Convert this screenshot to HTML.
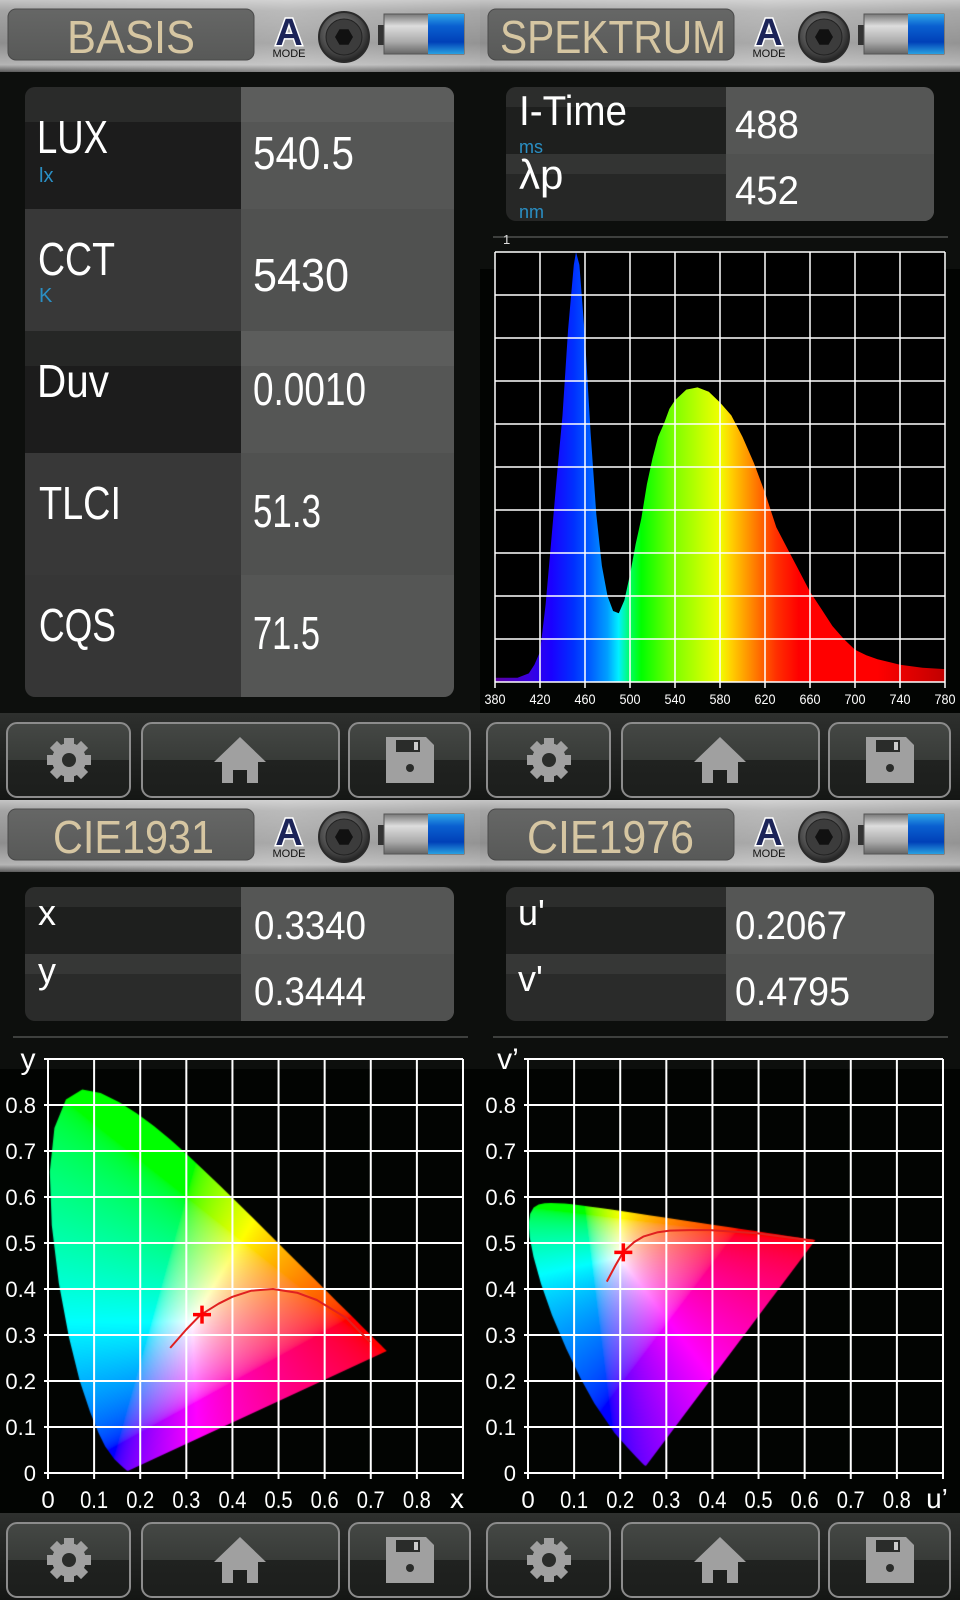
<!DOCTYPE html>
<html><head><meta charset="utf-8">
<style>
html,body{margin:0;padding:0;background:#000;}
body{width:960px;height:1600px;overflow:hidden;position:relative;font-family:"Liberation Sans","DejaVu Sans",sans-serif;}
svg{position:absolute;left:0;top:0;}
canvas{position:absolute;}
text{font-family:"Liberation Sans","DejaVu Sans",sans-serif;}
</style></head>
<body>
<svg id="base" width="960" height="1600" viewBox="0 0 960 1600">
<defs>
  <linearGradient id="hdrG" x1="0" y1="0" x2="0" y2="1">
    <stop offset="0" stop-color="#c4c4c4"/><stop offset="0.15" stop-color="#a4a4a4"/>
    <stop offset="0.6" stop-color="#8e8e8e"/><stop offset="0.9" stop-color="#b4b4b4"/><stop offset="1" stop-color="#5a5a5a"/>
  </linearGradient>
  <linearGradient id="hdrH" x1="0" y1="0" x2="1" y2="0">
    <stop offset="0" stop-color="#fff" stop-opacity="0"/><stop offset="0.6" stop-color="#fff" stop-opacity="0.25"/><stop offset="1" stop-color="#fff" stop-opacity="0.05"/>
  </linearGradient>
  <linearGradient id="titleG" x1="0" y1="0" x2="0" y2="1">
    <stop offset="0" stop-color="#666766"/><stop offset="1" stop-color="#585958"/>
  </linearGradient>
  <radialGradient id="camG" cx="0.45" cy="0.4" r="0.6">
    <stop offset="0" stop-color="#8a8a8a"/><stop offset="0.7" stop-color="#4a4a4a"/><stop offset="1" stop-color="#222"/>
  </radialGradient>
  <linearGradient id="batG" x1="0" y1="0" x2="0" y2="1">
    <stop offset="0" stop-color="#777"/><stop offset="0.3" stop-color="#ddd"/><stop offset="0.7" stop-color="#aaa"/><stop offset="1" stop-color="#666"/>
  </linearGradient>
  <linearGradient id="batB" x1="0" y1="0" x2="0" y2="1">
    <stop offset="0" stop-color="#30a8e8"/><stop offset="0.3" stop-color="#0a60d0"/><stop offset="0.7" stop-color="#0040b8"/><stop offset="1" stop-color="#2aa0e0"/>
  </linearGradient>
  <linearGradient id="barG" x1="0" y1="0" x2="0" y2="1">
    <stop offset="0" stop-color="#2e302e"/><stop offset="1" stop-color="#141614"/>
  </linearGradient>
  <linearGradient id="btnG" x1="0" y1="0" x2="0" y2="1">
    <stop offset="0" stop-color="#454845"/><stop offset="0.5" stop-color="#383b38"/><stop offset="0.5" stop-color="#202220"/><stop offset="1" stop-color="#1c1e1c"/>
  </linearGradient>
  <linearGradient id="specG" gradientUnits="userSpaceOnUse" x1="495" y1="0" x2="945" y2="0">
    <stop offset="0" stop-color="#5a00a0"/><stop offset="0.075" stop-color="#3a00e0"/>
    <stop offset="0.125" stop-color="#1a00ff"/><stop offset="0.175" stop-color="#0030ff"/>
    <stop offset="0.2125" stop-color="#0060ff"/><stop offset="0.25" stop-color="#00a0ff"/>
    <stop offset="0.275" stop-color="#00f0ff"/><stop offset="0.30" stop-color="#00ff60"/>
    <stop offset="0.325" stop-color="#00ff00"/><stop offset="0.40" stop-color="#80ff00"/>
    <stop offset="0.4625" stop-color="#c8ff00"/><stop offset="0.50" stop-color="#f0ff00"/>
    <stop offset="0.525" stop-color="#ffd000"/><stop offset="0.575" stop-color="#ff8000"/>
    <stop offset="0.625" stop-color="#ff3000"/><stop offset="0.675" stop-color="#ff0000"/>
    <stop offset="0.85" stop-color="#ff0000"/><stop offset="1" stop-color="#c00000"/>
  </linearGradient>
  <clipPath id="tblClip1"><rect x="25" y="87" width="429" height="610" rx="10"/></clipPath>
  <clipPath id="tblClip2"><rect x="506" y="87" width="428" height="134" rx="10"/></clipPath>
  <clipPath id="tblClip3"><rect x="25" y="887" width="429" height="134" rx="10"/></clipPath>
  <clipPath id="tblClip4"><rect x="506" y="887" width="428" height="134" rx="10"/></clipPath>
  <g id="camIcon">
    <circle cx="0" cy="0" r="25" fill="url(#camG)" stroke="#2a2a2a" stroke-width="2"/>
    <circle cx="0" cy="0" r="18" fill="#3c3c3c" stroke="#222" stroke-width="1"/>
    <polygon points="9,0 4.5,7.8 -4.5,7.8 -9,0 -4.5,-7.8 4.5,-7.8" fill="#111"/>
  </g>
  <g id="batIcon">
    <rect x="-6" y="11" width="8" height="20" fill="#333"/>
    <rect x="0" y="0" width="80" height="40" fill="url(#batG)" stroke="#555" stroke-width="1"/>
    <rect x="44" y="0" width="36" height="40" fill="url(#batB)"/>
  </g>
  <g id="gearIcon">
    <g fill="#a0a0a0">
      <rect x="-5" y="-22" width="10" height="44"/>
      <rect x="-5" y="-22" width="10" height="44" transform="rotate(45)"/>
      <rect x="-5" y="-22" width="10" height="44" transform="rotate(90)"/>
      <rect x="-5" y="-22" width="10" height="44" transform="rotate(135)"/>
      <circle r="17"/>
    </g>
    <circle r="7" fill="#2a2c2a"/>
  </g>
  <g id="homeIcon">
    <polygon points="0,-23 26,2 18,2 18,23 7,23 7,10 -7,10 -7,23 -18,23 -18,2 -26,2" fill="#a0a0a0"/>
  </g>
  <g id="floppyIcon">
    <polygon points="-24,-23 16,-23 24,-15 24,23 -24,23" fill="#a0a0a0"/>
    <rect x="-14" y="-20" width="24" height="12" fill="#2a2c2a"/>
    <rect x="4" y="-18" width="4" height="8" fill="#ccc"/>
    <circle cx="0" cy="8" r="4" fill="#2a2c2a"/>
  </g>
</defs>

<!-- quadrant backgrounds -->
<rect x="0" y="0" width="960" height="1600" fill="#020402"/>
<rect x="0" y="72" width="960" height="197" fill="#0d0f0d"/>
<rect x="0" y="72" width="480" height="641" fill="#0d0f0d"/>
<rect x="0" y="872" width="960" height="197" fill="#0d0f0d"/>

<!-- headers -->
<g>
  <rect x="0" y="0" width="480" height="72" fill="url(#hdrG)"/><rect x="0" y="0" width="480" height="72" fill="url(#hdrH)"/>
  <rect x="8" y="9" width="246" height="51" rx="8" fill="url(#titleG)" stroke="#4a4a4a"/>
  <text x="67" y="53" font-size="46" fill="#d6c6a2" textLength="128" lengthAdjust="spacingAndGlyphs">BASIS</text>
  <text x="289" y="45" font-size="38" font-weight="bold" fill="#1c2458" stroke="#fff" stroke-width="3" paint-order="stroke" text-anchor="middle">A</text>
  <text x="289" y="57" font-size="11" fill="#111" text-anchor="middle">MODE</text>
  <use href="#camIcon" x="344" y="37"/>
  <use href="#batIcon" x="384" y="14"/>
</g>
<g transform="translate(480,0)">
  <rect x="0" y="0" width="480" height="72" fill="url(#hdrG)"/><rect x="0" y="0" width="480" height="72" fill="url(#hdrH)"/>
  <rect x="8" y="9" width="246" height="51" rx="8" fill="url(#titleG)" stroke="#4a4a4a"/>
  <text x="20" y="53" font-size="46" fill="#d6c6a2" textLength="226" lengthAdjust="spacingAndGlyphs">SPEKTRUM</text>
  <text x="289" y="45" font-size="38" font-weight="bold" fill="#1c2458" stroke="#fff" stroke-width="3" paint-order="stroke" text-anchor="middle">A</text>
  <text x="289" y="57" font-size="11" fill="#111" text-anchor="middle">MODE</text>
  <use href="#camIcon" x="344" y="37"/>
  <use href="#batIcon" x="384" y="14"/>
</g>
<g transform="translate(0,800)">
  <rect x="0" y="0" width="480" height="72" fill="url(#hdrG)"/><rect x="0" y="0" width="480" height="72" fill="url(#hdrH)"/>
  <rect x="8" y="9" width="246" height="51" rx="8" fill="url(#titleG)" stroke="#4a4a4a"/>
  <text x="53" y="53" font-size="46" fill="#d6c6a2" textLength="161" lengthAdjust="spacingAndGlyphs">CIE1931</text>
  <text x="289" y="45" font-size="38" font-weight="bold" fill="#1c2458" stroke="#fff" stroke-width="3" paint-order="stroke" text-anchor="middle">A</text>
  <text x="289" y="57" font-size="11" fill="#111" text-anchor="middle">MODE</text>
  <use href="#camIcon" x="344" y="37"/>
  <use href="#batIcon" x="384" y="14"/>
</g>
<g transform="translate(480,800)">
  <rect x="0" y="0" width="480" height="72" fill="url(#hdrG)"/><rect x="0" y="0" width="480" height="72" fill="url(#hdrH)"/>
  <rect x="8" y="9" width="246" height="51" rx="8" fill="url(#titleG)" stroke="#4a4a4a"/>
  <text x="47" y="53" font-size="46" fill="#d6c6a2" textLength="167" lengthAdjust="spacingAndGlyphs">CIE1976</text>
  <text x="289" y="45" font-size="38" font-weight="bold" fill="#1c2458" stroke="#fff" stroke-width="3" paint-order="stroke" text-anchor="middle">A</text>
  <text x="289" y="57" font-size="11" fill="#111" text-anchor="middle">MODE</text>
  <use href="#camIcon" x="344" y="37"/>
  <use href="#batIcon" x="384" y="14"/>
</g>

<!-- BASIS table -->
<g clip-path="url(#tblClip1)">
  <rect x="25" y="87" width="221" height="122" fill="#1c1c1c"/><rect x="25" y="87" width="221" height="35" fill="#2a2b2a"/>
  <rect x="25" y="209" width="221" height="122" fill="#383838"/>
  <rect x="25" y="331" width="221" height="122" fill="#1c1c1c"/><rect x="25" y="331" width="221" height="35" fill="#262726"/>
  <rect x="25" y="453" width="221" height="122" fill="#383838"/>
  <rect x="25" y="575" width="221" height="122" fill="#363636"/>
  <rect x="241" y="87" width="213" height="610" fill="#555655"/>
  <rect x="241" y="209" width="213" height="122" fill="#505150"/>
  <rect x="241" y="453" width="213" height="122" fill="#505150"/>
  <rect x="241" y="87" width="213" height="35" fill="#5c5d5c"/>
  <rect x="241" y="331" width="213" height="35" fill="#5c5d5c"/>
</g>
<g fill="#fff" font-size="46">
  <text x="37" y="153" textLength="71" lengthAdjust="spacingAndGlyphs">LUX</text>
  <text x="39" y="182" font-size="20" fill="#2a8fc4">lx</text>
  <text x="253" y="169" textLength="101" lengthAdjust="spacingAndGlyphs">540.5</text>
  <text x="38" y="275" textLength="77" lengthAdjust="spacingAndGlyphs">CCT</text>
  <text x="39" y="302" font-size="20" fill="#2a8fc4">K</text>
  <text x="253" y="291" textLength="96" lengthAdjust="spacingAndGlyphs">5430</text>
  <text x="37" y="397" textLength="72" lengthAdjust="spacingAndGlyphs">Duv</text>
  <text x="253" y="405" textLength="113" lengthAdjust="spacingAndGlyphs">0.0010</text>
  <text x="39" y="519" textLength="82" lengthAdjust="spacingAndGlyphs">TLCI</text>
  <text x="253" y="527" textLength="68" lengthAdjust="spacingAndGlyphs">51.3</text>
  <text x="39" y="641" textLength="77" lengthAdjust="spacingAndGlyphs">CQS</text>
  <text x="253" y="649" textLength="67" lengthAdjust="spacingAndGlyphs">71.5</text>
</g>

<!-- SPEKTRUM table -->
<g clip-path="url(#tblClip2)">
  <rect x="506" y="87" width="221" height="67" fill="#1e1f1e"/><rect x="506" y="87" width="221" height="20" fill="#2c2d2c"/>
  <rect x="506" y="154" width="221" height="67" fill="#262726"/><rect x="506" y="154" width="221" height="20" fill="#333433"/>
  <rect x="726" y="87" width="208" height="134" fill="#555655"/>
  <rect x="726" y="154" width="208" height="67" fill="#505150"/>
</g>
<g fill="#fff">
  <text x="519" y="125" font-size="42" textLength="108" lengthAdjust="spacingAndGlyphs">I-Time</text>
  <text x="519" y="153" font-size="18" fill="#2a8fc4">ms</text>
  <text x="735" y="138" font-size="40" textLength="64" lengthAdjust="spacingAndGlyphs">488</text>
  <text x="519" y="189" font-size="42">λp</text>
  <text x="519" y="218" font-size="18" fill="#2a8fc4">nm</text>
  <text x="735" y="204" font-size="40" textLength="64" lengthAdjust="spacingAndGlyphs">452</text>
</g>
<line x1="493" y1="237" x2="948" y2="237" stroke="#3e403e" stroke-width="2"/>
<text x="503" y="244" font-size="13" fill="#ddd">1</text>
<rect x="495" y="252" width="450" height="430" fill="#000"/>
<g id="spectrum"></g>

<!-- CIE tables -->
<g clip-path="url(#tblClip3)">
  <rect x="25" y="887" width="221" height="67" fill="#1e1f1e"/><rect x="25" y="887" width="221" height="20" fill="#2c2d2c"/>
  <rect x="25" y="954" width="221" height="67" fill="#2a2b2a"/><rect x="25" y="954" width="221" height="20" fill="#363736"/>
  <rect x="241" y="887" width="213" height="134" fill="#555655"/>
  <rect x="241" y="954" width="213" height="67" fill="#505150"/>
</g>
<g fill="#fff">
  <text x="38" y="925" font-size="36">x</text>
  <text x="254" y="939" font-size="40" textLength="112" lengthAdjust="spacingAndGlyphs">0.3340</text>
  <text x="38" y="983" font-size="36">y</text>
  <text x="254" y="1005" font-size="40" textLength="112" lengthAdjust="spacingAndGlyphs">0.3444</text>
</g>
<g clip-path="url(#tblClip4)">
  <rect x="506" y="887" width="221" height="67" fill="#1e1f1e"/><rect x="506" y="887" width="221" height="20" fill="#2c2d2c"/>
  <rect x="506" y="954" width="221" height="67" fill="#2a2b2a"/><rect x="506" y="954" width="221" height="20" fill="#363736"/>
  <rect x="726" y="887" width="208" height="134" fill="#555655"/>
  <rect x="726" y="954" width="208" height="67" fill="#505150"/>
</g>
<g fill="#fff">
  <text x="518" y="925" font-size="36">u'</text>
  <text x="735" y="939" font-size="40" textLength="112" lengthAdjust="spacingAndGlyphs">0.2067</text>
  <text x="518" y="991" font-size="36">v'</text>
  <text x="735" y="1005" font-size="40" textLength="115" lengthAdjust="spacingAndGlyphs">0.4795</text>
</g>
<line x1="13" y1="1037" x2="468" y2="1037" stroke="#3e403e" stroke-width="2"/>
<line x1="493" y1="1037" x2="948" y2="1037" stroke="#3e403e" stroke-width="2"/>

<!-- bottom bars -->
<g>
  <rect x="0" y="713" width="480" height="87" fill="url(#barG)"/>
  <rect x="7" y="723" width="123" height="74" rx="10" fill="url(#btnG)" stroke="#8c8c8c" stroke-width="2"/>
  <use href="#gearIcon" x="69" y="760"/>
  <rect x="142" y="723" width="197" height="74" rx="10" fill="url(#btnG)" stroke="#8c8c8c" stroke-width="2"/>
  <use href="#homeIcon" x="240" y="760"/>
  <rect x="349" y="723" width="121" height="74" rx="10" fill="url(#btnG)" stroke="#8c8c8c" stroke-width="2"/>
  <use href="#floppyIcon" x="410" y="760"/>
</g>
<g transform="translate(480,0)">
  <rect x="0" y="713" width="480" height="87" fill="url(#barG)"/>
  <rect x="7" y="723" width="123" height="74" rx="10" fill="url(#btnG)" stroke="#8c8c8c" stroke-width="2"/>
  <use href="#gearIcon" x="69" y="760"/>
  <rect x="142" y="723" width="197" height="74" rx="10" fill="url(#btnG)" stroke="#8c8c8c" stroke-width="2"/>
  <use href="#homeIcon" x="240" y="760"/>
  <rect x="349" y="723" width="121" height="74" rx="10" fill="url(#btnG)" stroke="#8c8c8c" stroke-width="2"/>
  <use href="#floppyIcon" x="410" y="760"/>
</g>
<g transform="translate(0,800)">
  <rect x="0" y="713" width="480" height="87" fill="url(#barG)"/>
  <rect x="7" y="723" width="123" height="74" rx="10" fill="url(#btnG)" stroke="#8c8c8c" stroke-width="2"/>
  <use href="#gearIcon" x="69" y="760"/>
  <rect x="142" y="723" width="197" height="74" rx="10" fill="url(#btnG)" stroke="#8c8c8c" stroke-width="2"/>
  <use href="#homeIcon" x="240" y="760"/>
  <rect x="349" y="723" width="121" height="74" rx="10" fill="url(#btnG)" stroke="#8c8c8c" stroke-width="2"/>
  <use href="#floppyIcon" x="410" y="760"/>
</g>
<g transform="translate(480,800)">
  <rect x="0" y="713" width="480" height="87" fill="url(#barG)"/>
  <rect x="7" y="723" width="123" height="74" rx="10" fill="url(#btnG)" stroke="#8c8c8c" stroke-width="2"/>
  <use href="#gearIcon" x="69" y="760"/>
  <rect x="142" y="723" width="197" height="74" rx="10" fill="url(#btnG)" stroke="#8c8c8c" stroke-width="2"/>
  <use href="#homeIcon" x="240" y="760"/>
  <rect x="349" y="723" width="121" height="74" rx="10" fill="url(#btnG)" stroke="#8c8c8c" stroke-width="2"/>
  <use href="#floppyIcon" x="410" y="760"/>
</g>
</svg>

<canvas id="c1931" width="415" height="414" style="left:48px;top:1059px"></canvas>
<canvas id="c1976" width="415" height="414" style="left:528px;top:1059px"></canvas>
<svg id="ov" width="960" height="1600" viewBox="0 0 960 1600" style="pointer-events:none"></svg>

<script>
// ---- Spectrum data ----
const specWl  = [380,400,410,415,420,425,430,435,440,445,450,452,455,460,465,470,475,480,485,490,495,500,505,510,515,520,525,530,535,540,550,560,570,580,590,600,610,620,630,640,650,660,670,680,690,700,710,720,740,760,780];
const specVal = [0.01,0.01,0.02,0.04,0.07,0.18,0.33,0.48,0.62,0.82,0.97,1.0,0.97,0.80,0.58,0.39,0.27,0.20,0.165,0.16,0.19,0.25,0.32,0.38,0.46,0.52,0.57,0.60,0.635,0.655,0.68,0.685,0.675,0.65,0.62,0.57,0.51,0.44,0.36,0.31,0.26,0.21,0.17,0.13,0.10,0.075,0.062,0.053,0.04,0.033,0.03];
const specTicks = [380,420,460,500,540,580,620,660,700,740,780];
const specYTicks = [0,0.1,0.2,0.3,0.4,0.5,0.6,0.7,0.8,0.9,1.0];

// ---- CIE data ----
const locusX = [0.1741,0.1738,0.1733,0.1726,0.1714,0.1689,0.1644,0.1566,0.1440,0.1241,0.1096,0.0913,0.0687,0.0454,0.0235,0.0082,0.0039,0.0139,0.0389,0.0743,0.1142,0.1547,0.1929,0.2296,0.2658,0.3016,0.3373,0.3731,0.4087,0.4441,0.4788,0.5125,0.5448,0.5752,0.6029,0.6270,0.6482,0.6658,0.6801,0.6915,0.7006,0.7079,0.7140,0.7190,0.7230,0.7260,0.7347];
const locusY = [0.0050,0.0049,0.0048,0.0048,0.0051,0.0069,0.0109,0.0177,0.0297,0.0578,0.0868,0.1327,0.2007,0.2950,0.4127,0.5384,0.6548,0.7502,0.8120,0.8338,0.8262,0.8059,0.7816,0.7543,0.7243,0.6923,0.6589,0.6245,0.5896,0.5547,0.5202,0.4866,0.4544,0.4242,0.3965,0.3725,0.3514,0.3340,0.3197,0.3083,0.2993,0.2920,0.2859,0.2809,0.2770,0.2740,0.2653];
const planckX = [0.265,0.30,0.33,0.37,0.40,0.44,0.488,0.54,0.583,0.647,0.698];
const planckY = [0.272,0.312,0.343,0.368,0.383,0.396,0.400,0.392,0.376,0.337,0.285];
const planckU = [0.171,0.19,0.207,0.23,0.25,0.28,0.307,0.35,0.395,0.496,0.619];
const planckV = [0.416,0.452,0.481,0.502,0.514,0.523,0.527,0.528,0.528,0.521,0.505];
const measXY = [0.3340,0.3444];
const measUV = [0.2067,0.4795];
const cieTickLabels = ['0','0.1','0.2','0.3','0.4','0.5','0.6','0.7','0.8'];
const cieTickValues = [0,0.1,0.2,0.3,0.4,0.5,0.6,0.7,0.8];

const NS = 'http://www.w3.org/2000/svg';
function mk(tag, attrs, parent){ const e=document.createElementNS(NS,tag); for(const k in attrs) e.setAttribute(k,attrs[k]); parent.appendChild(e); return e; }

// ---- Spectrum chart ----
(function(){
  const g = document.getElementById('spectrum');
  const sx = wl => 495 + (wl-380)/400*450;
  const sy = v => 682 - v*430;
  let d = 'M'+sx(specWl[0])+','+sy(0);
  for(let i=0;i<specWl.length;i++) d += ' L'+sx(specWl[i]).toFixed(1)+','+sy(specVal[i]).toFixed(1);
  d += ' L'+sx(specWl[specWl.length-1])+','+sy(0)+' Z';
  const area = mk('path',{d:d,fill:'url(#specG)'},g);
  
  
  for(const t of specYTicks){
    const l = mk('line',{x1:495,x2:945,y1:sy(t),y2:sy(t),stroke:'#fff','stroke-width':1.5},g);
    
    
  }
  for(const t of specTicks){
    const l = mk('line',{x1:sx(t),x2:sx(t),y1:252,y2:688,stroke:'#fff','stroke-width':1.5},g);
    
    
    const tx = mk('text',{x:sx(t),y:704,'font-size':14,fill:'#fff','text-anchor':'middle',textLength:21,lengthAdjust:'spacingAndGlyphs'},g);
    tx.textContent = String(t);
    
    
  }
})();

// ---- CIE charts ----
function xyToUV(x,y){ const d=-2*x+12*y+3; return [4*x/d, 9*y/d]; }
function uvToXY(u,v){ const d=6*u-16*v+12; return [9*u/d, 4*v/d]; }

function fillGamut(canvas, toXY, locusPts){
  const ctx = canvas.getContext('2d');
  const W=canvas.width, H=canvas.height;
  const img = ctx.createImageData(W,H);
  for(let j=0;j<H;j++){
    for(let i=0;i<W;i++){
      const a = (i+0.5)/W*0.9, b = 0.9-(j+0.5)/H*0.9;
      const p = toXY(a,b); const x=p[0], y=p[1];
      if(y<=0.002) continue;
      const X=x/y, Y=1, Z=(1-x-y)/y;
      let r= 3.2406*X-1.5372*Y-0.4986*Z;
      let g=-0.9689*X+1.8758*Y+0.0415*Z;
      let bb=0.0557*X-0.2040*Y+1.0570*Z;
      r=Math.max(r,0); g=Math.max(g,0); bb=Math.max(bb,0);
      const m=Math.max(r,g,bb)||1;
      r=Math.pow(r/m,1/2.2); g=Math.pow(g/m,1/2.2); bb=Math.pow(bb/m,1/2.2);
      const k=(j*W+i)*4;
      img.data[k]=r*255; img.data[k+1]=g*255; img.data[k+2]=bb*255; img.data[k+3]=255;
    }
  }
  ctx.putImageData(img,0,0);
  ctx.globalCompositeOperation='destination-in';
  ctx.beginPath();
  locusPts.forEach((p,i)=>{ const px=p[0]/0.9*W, py=(0.9-p[1])/0.9*H; if(i===0) ctx.moveTo(px,py); else ctx.lineTo(px,py); });
  ctx.closePath(); ctx.fill();
}

const pts1931 = locusX.map((x,i)=>[x,locusY[i]]);
const pts1976 = locusX.map((x,i)=>xyToUV(x,locusY[i]));
fillGamut(document.getElementById('c1931'), (a,b)=>[a,b], pts1931);
fillGamut(document.getElementById('c1976'), uvToXY, pts1976);

function drawAxes(ov, x0, y0, name, xName, yName, cx, cy, mx, my){
  const sx = v => x0 + v*461.1;
  const sy = v => y0 - v*460;
  const g = mk('g',{},ov);
  
  
  const grid = [0,0.1,0.2,0.3,0.4,0.5,0.6,0.7,0.8,0.9];
  for(const t of grid){
    const h = mk('line',{x1:sx(0)-4,x2:sx(0.9),y1:sy(t),y2:sy(t),stroke:'#fff','stroke-width':2},g);
    
    
    const v = mk('line',{x1:sx(t),x2:sx(t),y1:sy(0.9),y2:sy(0)+6,stroke:'#fff','stroke-width':2},g);
    
    
  }
  cieTickValues.forEach((t,i)=>{
    const tx = mk('text',{x:sx(t),y:y0+35,'font-size':24,fill:'#fff','text-anchor':'middle'},g);
    if(cieTickLabels[i].length>1){ tx.setAttribute('textLength',28); tx.setAttribute('lengthAdjust','spacingAndGlyphs'); }
    tx.textContent = cieTickLabels[i];
    
    
    const ty = mk('text',{x:x0-12,y:sy(t)+8,'font-size':22,fill:'#fff','text-anchor':'end'},g);
    ty.textContent = cieTickLabels[i];
    
    
  });
  const xt = mk('text',{x:sx(0.9)-6,y:y0+35,'font-size':28,fill:'#fff','text-anchor':'middle'},g);
  xt.textContent = xName;
  
  
  const yt = mk('text',{x:x0-20,y:y0-404,'font-size':30,fill:'#fff','text-anchor':'middle'},g);
  yt.textContent = yName;
  
  
  let d='';
  cx.forEach((v,i)=>{ d += (i? ' L':'M')+sx(v).toFixed(1)+','+sy(cy[i]).toFixed(1); });
  const pl = mk('path',{d:d,fill:'none',stroke:'#e02020','stroke-width':2,'stroke-linejoin':'round'},g);
  
  
  const px = sx(mx), py = sy(my);
  const mkr = mk('path',{d:'M'+(px-9)+','+py+' H'+(px+9)+' M'+px+','+(py-9)+' V'+(py+9),stroke:'#ff0000','stroke-width':3.5,fill:'none'},g);
  
  
}
const ov = document.getElementById('ov');
drawAxes(ov, 48, 1473, 'cie1931', 'x', 'y', planckX, planckY, measXY[0], measXY[1]);
drawAxes(ov, 528, 1473, 'cie1976', 'u\u2019', 'v\u2019', planckU, planckV, measUV[0], measUV[1]);
</script>
</body></html>
